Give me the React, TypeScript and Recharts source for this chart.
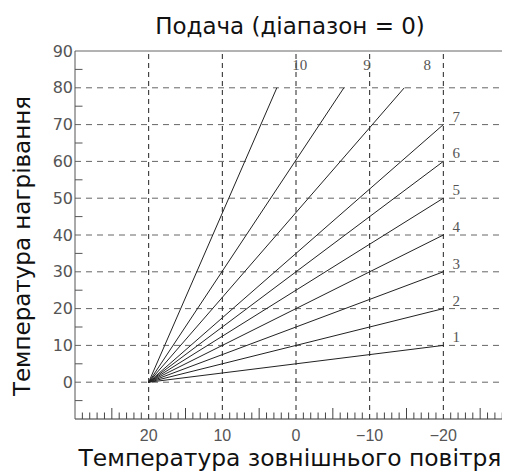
import React from 'react';
import { LineChart, Line, XAxis, YAxis, ReferenceLine, LabelList, Customized } from 'recharts';

// ---- data ----
const curveNames = ['1', '2', '3', '4', '5', '6', '7', '8', '9', '10'];
const startOutdoor = 20;
const startFlow = 0;
const endOutdoor = [-20, -20, -20, -20, -20, -20, -20, -14.7, -6.5, 2.6];
const endFlow = [10, 20, 30, 40, 50, 60, 70, 80, 80, 80];
const xTickLabels = [20, 10, 0, -10, -20];
const yTickLabels = [0, 10, 20, 30, 40, 50, 60, 70, 80, 90];
const xGridValues = [20, 10, 0, -10, -20];
const yGridValues = [0, 10, 20, 30, 40, 50, 60, 70, 80];
const titleText = 'Подача (діапазон = 0)';
const xTitle = 'Температура зовнішнього повітря';
const yTitle = 'Температура нагрівання';

const xDomain: [number, number] = [-30, 30];
const yDomain: [number, number] = [-10, 90];

const xAllTicks: number[] = [];
for (let v = xDomain[0]; v <= xDomain[1]; v++) xAllTicks.push(v);
const yAllTicks: number[] = [];
for (let v = yDomain[0]; v <= yDomain[1]; v += 5) yAllTicks.push(v);

const curves = curveNames.map((name, i) => ({
  name,
  data: [
    { x: startOutdoor, y: startFlow },
    { x: endOutdoor[i], y: endFlow[i] },
  ],
}));

const fmt = (v: number) => (v < 0 ? '\u2212' + Math.abs(v) : String(v));

const XTick = (props: any) => {
  const { x, y, payload } = props;
  const v = payload.value;
  if (xTickLabels.includes(v)) {
    return (
      <text x={x} y={y + 16} textAnchor="middle" dominantBaseline="central"
        fontFamily="Liberation Sans, Arial, sans-serif" fontSize={16} fill="#555">
        {fmt(v)}
      </text>
    );
  }
  if (v % 10 !== 0) {
    const len = v % 5 === 0 ? 11 : 6.5;
    return <line x1={x} x2={x} y1={y} y2={y - len} stroke="#444" strokeWidth={1} />;
  }
  return <g />;
};

const YTick = (props: any) => {
  const { x, y, payload } = props;
  const v = payload.value;
  if (yTickLabels.includes(v)) {
    return (
      <text x={x - 2} y={y} textAnchor="end" dominantBaseline="central"
        fontFamily="DejaVu Sans, sans-serif" fontSize={16} fill="#555">
        {v}
      </text>
    );
  }
  if (v % 10 !== 0) {
    return <line x1={x} x2={x + 7.5} y1={y} y2={y} stroke="#555" strokeWidth={1} />;
  }
  return <g />;
};

const Titles = () => (
  <g>
    <text x={282} y={26} textAnchor="middle" fontFamily="DejaVu Sans, sans-serif" fontSize={23} fill="#111">
      {titleText}
    </text>
    <text x={282} y={458} textAnchor="middle" fontFamily="DejaVu Sans, sans-serif" fontSize={23.4} fill="#111">
      {xTitle}
    </text>
    <text x={14} y={238} textAnchor="middle" dominantBaseline="central" transform="rotate(-90 14 238)"
      fontFamily="DejaVu Sans, sans-serif" fontSize={23} fill="#111">
      {yTitle}
    </text>
  </g>
);

const makeLabel = (name: string, top: boolean) => (props: any) => {
  const { x, y, index } = props;
  if (index !== 1) return null;
  const dx = top ? 23 : 13;
  const dy = top ? -23 : -8;
  return (
    <text x={x + dx} y={y + dy} textAnchor="middle" dominantBaseline="central"
      fontFamily="Liberation Serif, Times New Roman, serif" fontSize={15} fill="#555">
      {name}
    </text>
  );
};

export default function App() {
  return (
    <div style={{ width: 502, height: 467, overflow: 'hidden' }}>
      <LineChart width={509} height={467} margin={{ top: 43, right: 0, bottom: 0, left: 0 }}>
        <XAxis dataKey="x" type="number" domain={xDomain} reversed ticks={xAllTicks} interval={0}
          tickSize={0} tickMargin={0} tick={<XTick />} tickLine={false} height={56}
          axisLine={{ stroke: '#333' }} allowDataOverflow />
        <YAxis dataKey="y" type="number" domain={yDomain} ticks={yAllTicks} interval={0}
          tickSize={0} tickMargin={0} tick={<YTick />} tickLine={false} width={67}
          axisLine={{ stroke: '#555' }} allowDataOverflow />
        {yGridValues.map((v) => (
          <ReferenceLine key={'hy' + v} y={v} stroke="#666" strokeDasharray="6 5" />
        ))}
        {xGridValues.map((v) => (
          <ReferenceLine key={'vx' + v} x={v} stroke="#222" strokeDasharray="5 4" />
        ))}
        <ReferenceLine y={90} stroke="#666" />
        {curves.map((c) => (
          <Line key={c.name} data={c.data} dataKey="y" stroke="#222" strokeWidth={1}
            dot={false} activeDot={false} isAnimationActive={false}>
            <LabelList dataKey="y" content={makeLabel(c.name, c.data[1].y >= 80)} />
          </Line>
        ))}
        <Customized component={Titles} />
      </LineChart>
    </div>
  );
}
